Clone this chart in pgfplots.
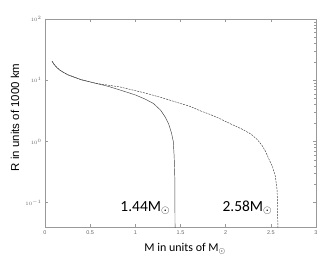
\documentclass[border=0pt]{standalone}
\usepackage{pgfplots}
\pgfplotsset{compat=1.18}
\usepackage{fontspec}
\setmainfont{Carlito}
\newfontfamily\arialf{Liberation Sans}
\begin{document}
\begin{tikzpicture}
\useasboundingbox (-45bp,-28bp) rectangle (275bp,227bp);
\begin{axis}[
  scale only axis, width=271bp, height=208bp,
  xmin=0, xmax=3, ymode=log, ymin=0.04, ymax=100,
  xtick={0,0.5,1,1.5,2,2.5,3},
  xticklabels={0,0.5,1,1.5,2,2.5,3},
  ytick={0.1,1,10,100},
  tick align=inside,
  axis line style={gray!80},
  every tick/.style={gray!80},
  major tick length=3bp, minor tick length=1.5bp,
  tick label style={font=\arialf\fontsize{5.5}{6.5}\selectfont, text=black!60},
  xlabel={M in units of M$_\odot$},
  xlabel style={font=\fontsize{12}{14}\selectfont, at={(axis description cs:0.517,-0.12)}, anchor=base},
  ylabel={R in units of 1000 km},
  ylabel style={font=\arialf\fontsize{11.5}{13}\selectfont, at={(axis description cs:-0.1107,0.527)}, anchor=center, rotate=0},
  clip=true,
]
\addplot[black!75, line width=0.45pt] coordinates {
(0.078,20.4) (0.1,18.2) (0.13,16.2) (0.167,14.5) (0.25,12.3) (0.4,10.2)
(0.56,8.91) (0.7,7.94) (0.83,6.92) (1.0,5.75) (1.11,4.90) (1.2,4.17)
(1.28,3.24) (1.33,2.51) (1.37,1.91) (1.40,1.38) (1.42,1.0) (1.43,0.562)
(1.437,0.251) (1.44,0.03)
};
\addplot[black!75, line width=0.45pt, dash pattern=on 2pt off 1pt] coordinates {
(0.078,20.4) (0.1,18.2) (0.13,16.2) (0.167,14.5) (0.25,12.3) (0.4,10.2)
(0.56,8.91) (0.83,7.76) (1.11,6.17) (1.28,5.25) (1.39,4.68) (1.5,4.17)
(1.61,3.72) (1.72,3.16) (1.83,2.75) (1.94,2.34) (2.05,1.95) (2.17,1.62)
(2.28,1.32) (2.35,1.07) (2.40,0.871) (2.44,0.692) (2.47,0.550) (2.52,0.380)
(2.55,0.269) (2.57,0.158) (2.58,0.03)
};
\node[anchor=base, font=\fontsize{15.5}{18}\selectfont] at (axis cs:1.11,0.071) {1.44M$_\odot$};
\node[anchor=base, font=\fontsize{15.5}{18}\selectfont] at (axis cs:2.24,0.071) {2.58M$_\odot$};
\end{axis}
\end{tikzpicture}
\end{document}
